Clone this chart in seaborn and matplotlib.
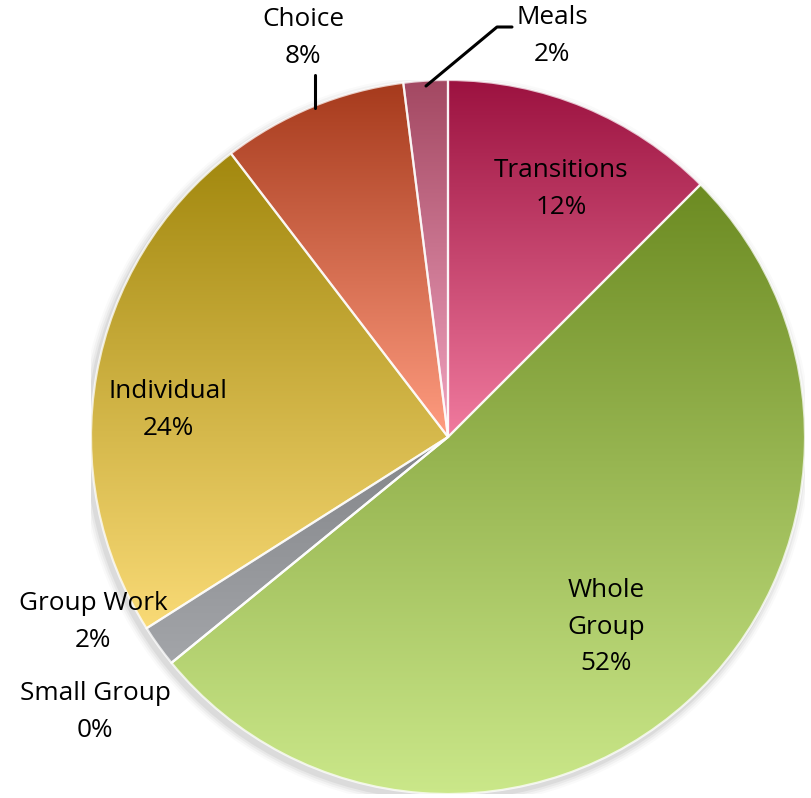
import numpy as np
import matplotlib
matplotlib.use("Agg")
import matplotlib.pyplot as plt
import seaborn as sns
from matplotlib.colors import LinearSegmentedColormap
from matplotlib.patches import Circle

sns.set_theme(style="white")
plt.rcParams['font.family'] = ['Open Sans', 'DejaVu Sans']

# ---- data ----
categories = ["Transitions", "Whole Group", "Small Group", "Group Work",
              "Individual", "Choice", "Meals"]
values = [12.5, 51.6, 0.0, 1.9, 23.6, 8.4, 2.0]
pct_labels = ["12%", "52%", "0%", "2%", "24%", "8%", "2%"]

top_colors = ["#9C1240", "#6C8B22", "#7E8084", "#838589", "#A2880E", "#A63A1C", "#A34862"]
bottom_colors = ["#F07A9E", "#CBE88A", "#A6A8AC", "#A3A5A9", "#F9DA76", "#FF9C80", "#F2A4C0"]

W, H = 811, 798
fig = plt.figure(figsize=(W / 100, H / 100), dpi=100)
fig.patch.set_facecolor("white")

cx, cy, R = 448, 437, 357
ax = fig.add_axes([(cx - R) / W, 1 - (cy + R) / H, 2 * R / W, 2 * R / H])
ax.set_xlim(-1, 1)
ax.set_ylim(-1, 1)
ax.axis("off")

# soft shadow
for i, a in enumerate([0.05, 0.04, 0.03, 0.02]):
    ax.add_patch(Circle((-0.008, -0.012), 1.0 + 0.006 * (i + 1), color="black",
                        alpha=a, zorder=0, lw=0))

wedges, _ = ax.pie(values, startangle=90, counterclock=False, radius=1.0,
                   center=(0, 0), frame=True,
                   wedgeprops=dict(linewidth=0, edgecolor="white"))
ax.set_xlim(-1, 1)
ax.set_ylim(-1, 1)
ax.axis("off")

grad = np.linspace(0, 1, 256).reshape(-1, 1)
for w, ct, cb in zip(wedges, top_colors, bottom_colors):
    w.set_facecolor("none")
    path = w.get_path()
    verts = w.get_transform().transform(path.vertices)
    bb = ax.transData.inverted().transform(verts)
    if len(bb) == 0:
        continue
    x0, x1 = bb[:, 0].min(), bb[:, 0].max()
    y0, y1 = bb[:, 1].min(), bb[:, 1].max()
    if x1 - x0 < 1e-6:
        continue
    cmap = LinearSegmentedColormap.from_list("g", [cb, ct])
    im = ax.imshow(grad, cmap=cmap, extent=[x0, x1, y0, y1], origin="lower",
                   aspect="auto", zorder=1, interpolation="bicubic")
    im.set_clip_path(w)
    w.set_zorder(2)
    w.set_edgecolor((1, 1, 1, 0.75))
    w.set_linewidth(1.6)

ax.set_xlim(-1, 1)
ax.set_ylim(-1, 1)

# labels
label_pos = {
    "Transitions": (561, 189),
    "Whole Group": (606, 627),
    "Small Group": (95, 712),
    "Group Work": (93, 622),
    "Individual": (168, 410),
    "Choice": (303, 38),
    "Meals": (552, 36),
}
for name, pct in zip(categories, pct_labels):
    disp = name.replace(" ", "\n") if name == "Whole Group" else name
    px, py = label_pos[name]
    fig.text(px / W, 1 - py / H, f"{disp}\n{pct}", ha="center", va="center",
             fontsize=18.8, color="#000000", linespacing=1.6, zorder=5)

# leader lines
def fline(xs, ys):
    fig.add_artist(plt.Line2D([x / W for x in xs], [1 - y / H for y in ys],
                              color="black", lw=2.2, transform=fig.transFigure))

fline([315, 315], [75, 108])
fline([426, 497, 512], [86, 27, 27])

fig.savefig("out.png", dpi=100, facecolor="white")
